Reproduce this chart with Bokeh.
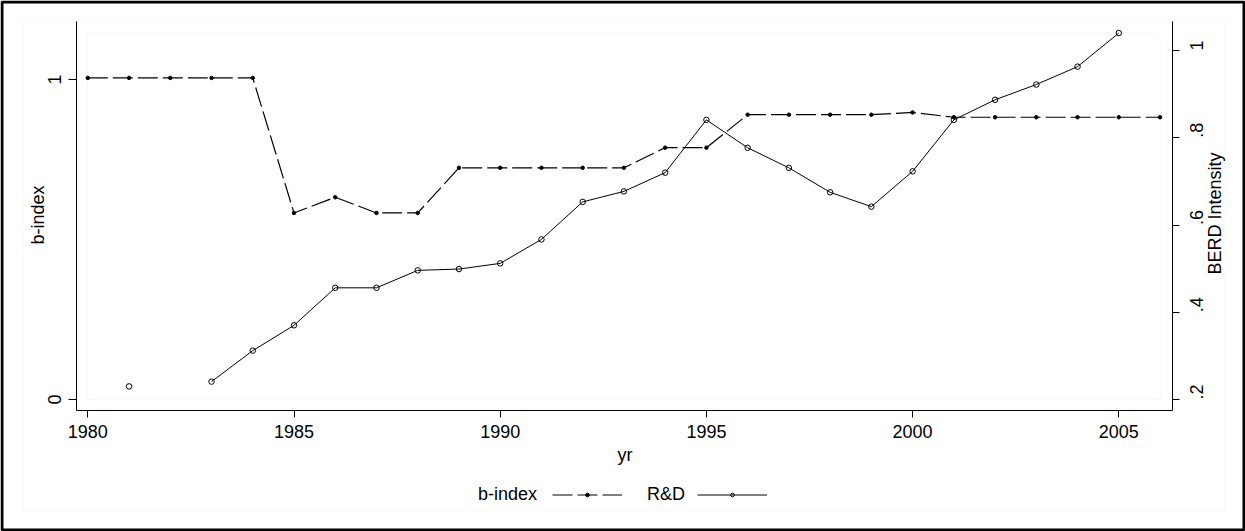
import math
import numpy as np
from bokeh.plotting import figure
from bokeh.core.properties import value
from bokeh.models import (Range1d, LinearAxis, FixedTicker, ColumnDataSource,
                          Legend, LegendItem, BoxAnnotation, Label)
from bokeh.embed import file_html
from bokeh.resources import INLINE

# ---------------- data ----------------
years = list(range(1980, 2007))
b_index = [1.005, 1.005, 1.005, 1.005, 1.005,
           0.583, 0.632, 0.583, 0.583, 0.724,
           0.724, 0.724, 0.724, 0.724, 0.787,
           0.787, 0.890, 0.890, 0.890, 0.890,
           0.897, 0.882, 0.882, 0.882, 0.882,
           0.882, 0.882]
nan = float("nan")
rd = [nan, 0.230, nan, 0.241, 0.312,
      0.370, 0.456, 0.456, 0.496, 0.499,
      0.512, 0.567, 0.653, 0.677, 0.720,
      0.841, 0.777, 0.731, 0.675, 0.642,
      0.723, 0.841, 0.887, 0.922, 0.963,
      1.040, nan]
x_ticks = [1980, 1985, 1990, 1995, 2000, 2005]
left_ticks = [0, 1]
left_tick_labels = ["0", "1"]
right_ticks = [0.2, 0.4, 0.6, 0.8, 1.0]
right_tick_labels = [".2", ".4", ".6", ".8", "1"]
series_names = ["b-index", "R&D"]
x_title = "yr"
left_title = "b-index"
right_title = "BERD Intensity"

FONT = "Liberation Sans"
FS = "18px"
LIGHT = "#e4ecee"
W, H = 1245, 531

# ---------------- layout geometry (pixels) ----------------
PX_1980, PX_PER_YEAR = 87.3, 41.24          # x scale
PY_L0, PY_PER_L = 399.0, 320.0              # left axis: 0 at 399 px
PY_R02, PY_PER_R = 399.0, 436.25            # right axis: .2 at 399 px
AX_LEFT, AX_RIGHT, AX_TOP, AX_BOTTOM = 75.7, 1171.7, 20.7, 410.3


def xval(px):
    return 1980 + (px - PX_1980) / PX_PER_YEAR


def lval(py):
    return (PY_L0 - py) / PY_PER_L


def rval(py):
    return 0.2 + (PY_R02 - py) / PY_PER_R


p = figure(frame_width=W, frame_height=H, min_border=0,
           output_backend="svg", toolbar_location=None,
           x_axis_location=None, y_axis_location=None,
           x_range=Range1d(xval(0), xval(W)),
           y_range=Range1d(lval(H), lval(0)))
p.extra_y_ranges = {"rd": Range1d(rval(H), rval(0))}
p.grid.visible = False
p.outline_line_color = None
p.background_fill_color = "white"
p.border_fill_color = "white"

# graph-region frames: faint inner border and black outer border
p.add_layout(BoxAnnotation(left=22.7, right=1224.3, bottom=21, top=H - 20,
                           left_units="screen", right_units="screen",
                           bottom_units="screen", top_units="screen",
                           fill_color=None, line_color=LIGHT, line_width=1,
                           level="underlay"))
p.add_layout(BoxAnnotation(left=1.5, right=W - 1.5, bottom=1.5, top=H - 1.5,
                           left_units="screen", right_units="screen",
                           bottom_units="screen", top_units="screen",
                           fill_color=None, fill_alpha=0, line_color="black",
                           line_alpha=1.0, line_width=3))


def style(ax, tick_out):
    ax.axis_line_color = "black"
    ax.axis_line_width = 1
    ax.major_tick_line_color = "black"
    ax.major_tick_in = 0
    ax.major_tick_out = tick_out
    ax.minor_tick_line_color = None
    ax.major_label_text_font = FONT
    ax.major_label_text_font_size = FS
    ax.major_label_text_color = "black"


xa = LinearAxis(fixed_location=lval(AX_BOTTOM), bounds=(xval(AX_LEFT), xval(AX_RIGHT)),
                ticker=FixedTicker(ticks=x_ticks))
style(xa, 7)
xa.major_label_standoff = 7
p.add_layout(xa, "below")

ya = LinearAxis(fixed_location=xval(AX_LEFT), bounds=(lval(AX_BOTTOM), lval(AX_TOP)),
                ticker=FixedTicker(ticks=left_ticks))
style(ya, 8)
ya.major_label_overrides = dict(zip(left_ticks, left_tick_labels))
ya.major_label_orientation = "parallel"
ya.major_label_standoff = 7
p.add_layout(ya, "left")

ra = LinearAxis(y_range_name="rd", fixed_location=xval(AX_RIGHT),
                bounds=(rval(AX_BOTTOM), rval(AX_TOP)),
                ticker=FixedTicker(ticks=right_ticks))
style(ra, 7)
ra.major_label_overrides = dict(zip(right_ticks, right_tick_labels))
ra.major_label_orientation = math.pi / 2
ra.major_label_standoff = 17
p.add_layout(ra, "right")


# axis titles
def title(text, sx, sy, angle):
    return Label(x=sx, y=H - sy, x_units="screen", y_units="screen", text=text,
                 angle=angle, text_font=FONT, text_font_size=FS, text_color="black",
                 text_align="center", text_baseline="alphabetic")


p.add_layout(title(x_title, 624.5, 454, 0))
p.add_layout(title(left_title, 37.5, 214.5, math.pi / 2))
p.add_layout(title(right_title, 1214.5, 213, math.pi / 2))

# inner plot-region frame (span of the data)
inner = BoxAnnotation(left=years[0], right=years[-1], bottom=0.2,
                      top=max(v for v in rd if v == v), y_range_name="rd",
                      fill_color=None, line_color=LIGHT, line_width=1, level="underlay")
p.add_layout(inner)

src = ColumnDataSource(dict(yr=np.array(years, dtype=float),
                            b=np.array(b_index, dtype=float),
                            rd=np.array(rd, dtype=float)))

lb = p.line("yr", "b", source=src, line_color="black", line_width=1.2, line_dash="20 5")
sb = p.scatter("yr", "b", source=src, size=3.5, marker="circle",
               fill_color="black", line_color="black")
lr = p.line("yr", "rd", source=src, y_range_name="rd", line_color="black", line_width=1)
sr = p.scatter("yr", "rd", source=src, y_range_name="rd", size=5.5, marker="circle",
               fill_color=None, line_color="black", line_width=1)


# Stata-style key: the text comes first, its key follows it
def key_legend(text, renderers, text_left, gap):
    items = [LegendItem(label=value(text), renderers=[]),
             LegendItem(label=value(" "), renderers=renderers)]
    lg = Legend(items=items, orientation="horizontal",
                location=(text_left - 70, H - 485 - 20))
    lg.border_line_color = None
    lg.background_fill_alpha = 0
    lg.padding = 0
    lg.margin = 0
    lg.spacing = gap
    lg.glyph_width = 70
    lg.glyph_height = 9
    lg.label_height = 20
    lg.label_standoff = 0
    lg.label_width = 0
    lg.label_text_font = FONT
    lg.label_text_font_size = FS
    lg.label_text_color = "black"
    lg.label_text_baseline = "alphabetic"
    return lg


p.add_layout(key_legend(series_names[0], [lb, sb], 478, 15))
p.add_layout(key_legend(series_names[1], [lr, sr], 647, 12))

open("out.html", "w").write(file_html(p, INLINE))
